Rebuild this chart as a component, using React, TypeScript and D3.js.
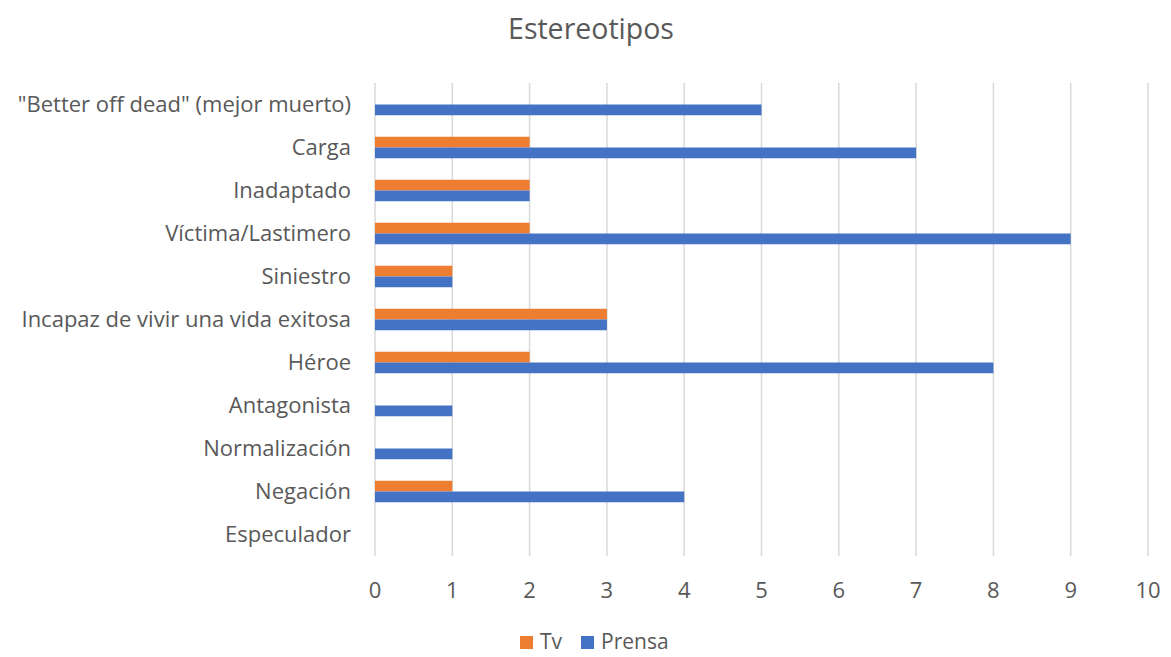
import React from "react";
import * as d3 from "d3";

const categories = [
  "\"Better off dead\" (mejor muerto)",
  "Carga",
  "Inadaptado",
  "Víctima/Lastimero",
  "Siniestro",
  "Incapaz de vivir una vida exitosa",
  "Héroe",
  "Antagonista",
  "Normalización",
  "Negación",
  "Especulador",
];
const tvValues = [0, 2, 2, 2, 1, 3, 2, 0, 0, 1, 0];
const prensaValues = [5, 7, 2, 9, 1, 3, 8, 1, 1, 4, 0];
const seriesNames = ["Tv", "Prensa"];
const seriesColors = ["#ED7D31", "#4472C4"];
const xTicks = [0, 1, 2, 3, 4, 5, 6, 7, 8, 9, 10];
const title = "Estereotipos";

const W = 1171;
const H = 657;
const FONT = "'Open Sans', Lato, sans-serif";
const TEXT = "#595959";

export default function App() {
  const left = 375;
  const right = 1148;
  const top = 83;
  const bottom = 556;
  const x = d3.scaleLinear().domain([0, 10]).range([left, right]);
  const y = d3
    .scaleBand<string>()
    .domain(categories)
    .range([top, bottom])
    .paddingInner(0.5)
    .paddingOuter(0.25);
  const sub = d3
    .scaleBand<string>()
    .domain(seriesNames)
    .range([0, y.bandwidth()]);
  const series = [tvValues, prensaValues];

  return (
    <svg
      width={W}
      height={H}
      style={{ position: "absolute", left: 0, top: 0, background: "#fff" }}
      fontFamily={FONT}
    >
      <rect x={0} y={0} width={W} height={H} fill="#fff" />
      <text x={591} y={39} textAnchor="middle" fontSize={28.5} fill={TEXT}>
        {title}
      </text>
      {xTicks.map((t) => (
        <line
          key={"g" + t}
          x1={x(t)}
          x2={x(t)}
          y1={top}
          y2={bottom}
          stroke="#d9d9d9"
          strokeWidth={1.5}
        />
      ))}
      {series.map((vals, si) =>
        categories.map((c, i) => (
          <rect
            key={si + "-" + i}
            x={x(0)}
            y={(y(c) as number) + (sub(seriesNames[si]) as number)}
            width={x(vals[i]) - x(0)}
            height={sub.bandwidth()}
            fill={seriesColors[si]}
          />
        ))
      )}
      {categories.map((c) => (
        <text
          key={"l" + c}
          x={351}
          y={(y(c) as number) + y.bandwidth() / 2}
          dy="0.35em"
          textAnchor="end"
          fontSize={22}
          fill={TEXT}
        >
          {c}
        </text>
      ))}
      {xTicks.map((t) => (
        <text
          key={"t" + t}
          x={x(t)}
          y={590}
          dy="0.35em"
          textAnchor="middle"
          fontSize={22}
          fill={TEXT}
        >
          {t}
        </text>
      ))}
      {seriesNames.map((s, i) => {
        const lx = i === 0 ? 520 : 581;
        return (
          <g key={"leg" + s}>
            <rect x={lx} y={636} width={13} height={13} fill={seriesColors[i]} />
            <text x={lx + 20} y={642} dy="0.35em" fontSize={21} fill={TEXT}>
              {s}
            </text>
          </g>
        );
      })}
    </svg>
  );
}
